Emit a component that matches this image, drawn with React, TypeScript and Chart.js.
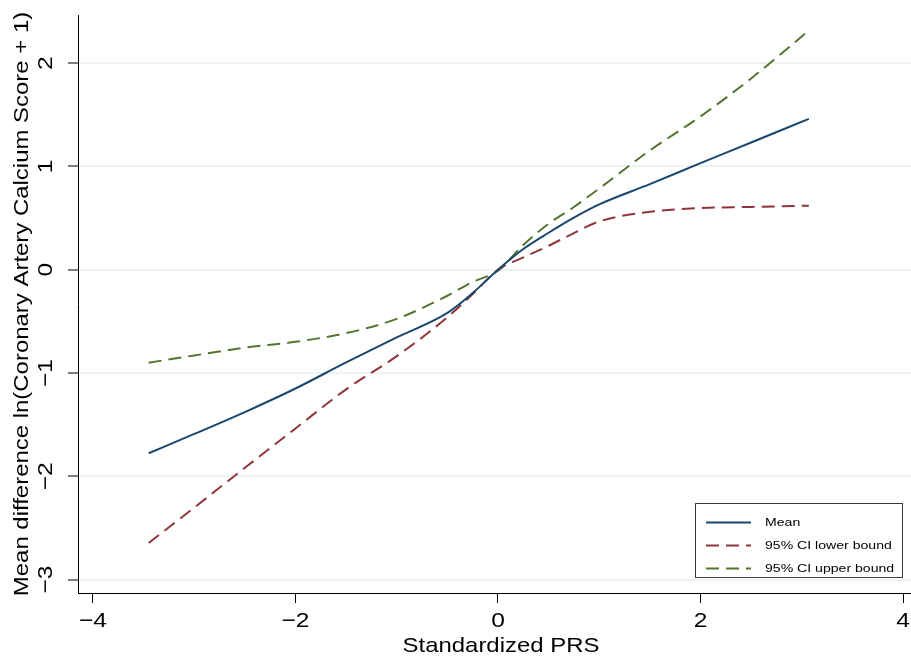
import React, { useEffect, useRef } from "react";
import { Chart, registerables } from "chart.js";

Chart.register(...registerables);

const prs = [-3.45, -3, -2.5, -2, -1.5, -1, -0.5, -0.25, 0, 0.25, 0.5, 0.75, 1, 1.5, 2, 2.5, 3.07];
const meanDiff = [-1.777, -1.59, -1.378, -1.15, -0.898, -0.656, -0.418, -0.226, 0, 0.2, 0.358, 0.504, 0.632, 0.828, 1.032, 1.232, 1.461];
const lowerBound = [-2.646, -2.303, -1.918, -1.537, -1.158, -0.837, -0.46, -0.235, 0, 0.119, 0.232, 0.355, 0.467, 0.561, 0.597, 0.608, 0.62];
const upperBound = [-0.9, -0.83, -0.755, -0.698, -0.614, -0.476, -0.252, -0.118, -0.01, 0.24, 0.445, 0.607, 0.786, 1.155, 1.484, 1.852, 2.315];

const xTickValues = [-4, -2, 0, 2, 4];
const yTickValues = [-3, -2, -1, 0, 1, 2];
const seriesLabels = ["Mean", "95% CI lower bound", "95% CI upper bound"];
const xTitle = "Standardized PRS";
const yTitle = "Mean difference ln(Coronary Artery Calcium Score + 1)";

const FONT = '"Liberation Sans", Arimo, Arial, Helvetica, sans-serif';

const fmt = (v: number) => (v < 0 ? "\u2212" + Math.abs(v) : String(v));

function drawText(
  ctx: CanvasRenderingContext2D,
  text: string,
  x: number,
  y: number,
  rot: number,
  size: number,
  sx: number,
  align: CanvasTextAlign,
  baseline: CanvasTextBaseline
) {
  ctx.save();
  ctx.translate(x, y);
  ctx.rotate(rot);
  ctx.scale(sx, 1);
  ctx.font = `${size}px ${FONT}`;
  ctx.textAlign = align;
  ctx.textBaseline = baseline;
  ctx.fillStyle = "#000";
  ctx.fillText(text, 0, 0);
  ctx.restore();
}

const textPlugin = {
  id: "stataText",
  afterDraw(chart: any) {
    const ctx: CanvasRenderingContext2D = chart.ctx;
    const xs = chart.scales.x;
    const ys = chart.scales.y;
    const area = chart.chartArea;

    xTickValues.forEach((v) => {
      drawText(ctx, fmt(v), xs.getPixelForValue(v), xs.bottom + 24, 0, 21, 1.17, "center", "alphabetic");
    });
    yTickValues.forEach((v) => {
      drawText(ctx, fmt(v), ys.left - 16, ys.getPixelForValue(v), -Math.PI / 2, 21, 1.17, "center", "alphabetic");
    });
    drawText(ctx, xTitle, 501, 652, 0, 21, 1.14, "center", "alphabetic");
    drawText(ctx, yTitle, 28, (area.top + area.bottom) / 2, -Math.PI / 2, 21, 1.14, "center", "alphabetic");

    const left = 695.5;
    const top = 503.5;
    const w = 207;
    const h = 74;
    ctx.save();
    ctx.fillStyle = "#ffffff";
    ctx.fillRect(left, top, w, h);
    ctx.strokeStyle = "#3a3a3a";
    ctx.lineWidth = 1;
    ctx.strokeRect(left, top, w, h);
    const rows = [522.5, 545.5, 568.5];
    chart.data.datasets.forEach((ds: any, i: number) => {
      ctx.save();
      ctx.strokeStyle = ds.borderColor;
      ctx.lineWidth = 2;
      ctx.setLineDash(ds.borderDash || []);
      ctx.beginPath();
      ctx.moveTo(706, rows[i]);
      ctx.lineTo(751, rows[i]);
      ctx.stroke();
      ctx.restore();
      drawText(ctx, ds.label, 765, rows[i], 0, 11, 1.28, "left", "middle");
    });
    ctx.restore();
  },
};

export default function App() {
  const canvasRef = useRef<HTMLCanvasElement | null>(null);

  useEffect(() => {
    const canvas = canvasRef.current;
    if (!canvas) return;
    const toPts = (ys: number[]) => prs.map((x, i) => ({ x, y: ys[i] }));
    const chart = new Chart(canvas, {
      type: "line",
      data: {
        datasets: [
          {
            label: seriesLabels[0],
            data: toPts(meanDiff),
            borderColor: "#1a476f",
            borderWidth: 2,
            pointRadius: 0,
            cubicInterpolationMode: "monotone",
            fill: false,
          },
          {
            label: seriesLabels[1],
            data: toPts(lowerBound),
            borderColor: "#90353b",
            borderWidth: 2,
            borderDash: [13, 7],
            pointRadius: 0,
            cubicInterpolationMode: "monotone",
            fill: false,
          },
          {
            label: seriesLabels[2],
            data: toPts(upperBound),
            borderColor: "#55752f",
            borderWidth: 2,
            borderDash: [13, 7],
            pointRadius: 0,
            cubicInterpolationMode: "monotone",
            fill: false,
          },
        ],
      },
      options: {
        responsive: false,
        animation: false,
        layout: { padding: { left: 68, top: 15, right: 0, bottom: 58 } },
        plugins: {
          legend: { display: false },
          tooltip: { enabled: false },
        },
        scales: {
          x: {
            type: "linear",
            min: -4.148,
            max: 4.079,
            afterBuildTicks: (scale: any) => {
              scale.ticks = xTickValues.map((v) => ({ value: v }));
            },
            ticks: { display: false },
            grid: {
              drawOnChartArea: false,
              drawTicks: true,
              tickLength: 10,
              tickColor: "#000",
              tickWidth: 1,
            },
            border: { display: true, color: "#000", width: 1 },
          },
          y: {
            type: "linear",
            min: -3.13,
            max: 2.466,
            afterBuildTicks: (scale: any) => {
              scale.ticks = yTickValues.map((v) => ({ value: v }));
            },
            ticks: { display: false },
            grid: {
              drawOnChartArea: true,
              color: "#edf2f4",
              lineWidth: 2,
              drawTicks: true,
              tickLength: 10,
              tickColor: "#000",
              tickWidth: 1,
            },
            border: { display: true, color: "#000", width: 1 },
          },
        },
      },
      plugins: [textPlugin],
    } as any);
    return () => chart.destroy();
  }, []);

  return (
    <div style={{ position: "absolute", left: 0, top: 0, width: 911, height: 661, background: "#fff" }}>
      <canvas ref={canvasRef} width={911} height={661} style={{ display: "block" }} />
    </div>
  );
}
